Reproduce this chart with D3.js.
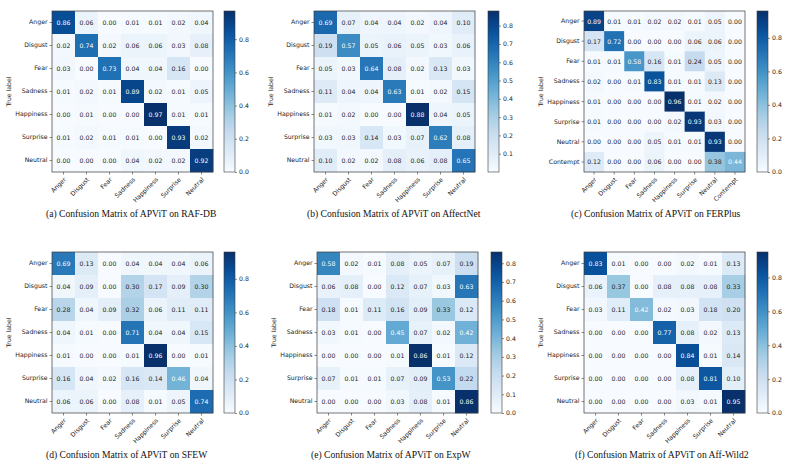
<!DOCTYPE html>
<html>
<head>
<meta charset="utf-8">
<script src="https://cdn.jsdelivr.net/npm/d3@7"></script>
<style>
  html, body { margin: 0; padding: 0; background: #ffffff; }
  svg { display: block; }
</style>
</head>
<body>
<svg id="chart" width="789" height="472"></svg>
<script>
// ---------------- DATA ----------------
const labels7 = ["Anger", "Disgust", "Fear", "Sadness", "Happiness", "Surprise", "Neutral"];
const labels8 = ["Anger", "Disgust", "Fear", "Sadness", "Happiness", "Surprise", "Neutral", "Contempt"];

const rafdb = [
  [0.86, 0.06, 0.00, 0.01, 0.01, 0.02, 0.04],
  [0.02, 0.74, 0.02, 0.06, 0.06, 0.03, 0.08],
  [0.03, 0.00, 0.73, 0.04, 0.04, 0.16, 0.00],
  [0.01, 0.02, 0.01, 0.89, 0.02, 0.01, 0.05],
  [0.00, 0.01, 0.00, 0.00, 0.97, 0.01, 0.01],
  [0.01, 0.02, 0.01, 0.01, 0.00, 0.93, 0.02],
  [0.00, 0.00, 0.00, 0.04, 0.02, 0.02, 0.92]
];
const affectnet = [
  [0.69, 0.07, 0.04, 0.04, 0.02, 0.04, 0.10],
  [0.19, 0.57, 0.05, 0.06, 0.05, 0.03, 0.06],
  [0.05, 0.03, 0.64, 0.08, 0.02, 0.13, 0.03],
  [0.11, 0.04, 0.04, 0.63, 0.01, 0.02, 0.15],
  [0.01, 0.02, 0.00, 0.00, 0.88, 0.04, 0.05],
  [0.03, 0.03, 0.14, 0.03, 0.07, 0.62, 0.08],
  [0.10, 0.02, 0.02, 0.08, 0.06, 0.08, 0.65]
];
const ferplus = [
  [0.89, 0.01, 0.01, 0.02, 0.02, 0.01, 0.05, 0.00],
  [0.17, 0.72, 0.00, 0.00, 0.00, 0.06, 0.06, 0.00],
  [0.01, 0.01, 0.58, 0.16, 0.01, 0.24, 0.05, 0.00],
  [0.02, 0.00, 0.01, 0.83, 0.01, 0.01, 0.13, 0.00],
  [0.01, 0.00, 0.00, 0.00, 0.96, 0.01, 0.02, 0.00],
  [0.01, 0.00, 0.00, 0.00, 0.02, 0.93, 0.03, 0.00],
  [0.00, 0.00, 0.00, 0.05, 0.01, 0.01, 0.93, 0.00],
  [0.12, 0.00, 0.00, 0.06, 0.00, 0.00, 0.38, 0.44]
];
const sfew = [
  [0.69, 0.13, 0.00, 0.04, 0.04, 0.04, 0.06],
  [0.04, 0.09, 0.00, 0.30, 0.17, 0.09, 0.30],
  [0.28, 0.04, 0.09, 0.32, 0.06, 0.11, 0.11],
  [0.04, 0.01, 0.00, 0.71, 0.04, 0.04, 0.15],
  [0.01, 0.00, 0.00, 0.01, 0.96, 0.00, 0.01],
  [0.16, 0.04, 0.02, 0.16, 0.14, 0.46, 0.04],
  [0.06, 0.06, 0.00, 0.08, 0.01, 0.05, 0.74]
];
const expw = [
  [0.58, 0.02, 0.01, 0.08, 0.05, 0.07, 0.19],
  [0.06, 0.08, 0.00, 0.12, 0.07, 0.03, 0.63],
  [0.18, 0.01, 0.11, 0.16, 0.09, 0.33, 0.12],
  [0.03, 0.01, 0.00, 0.45, 0.07, 0.02, 0.42],
  [0.00, 0.00, 0.00, 0.01, 0.86, 0.01, 0.12],
  [0.07, 0.01, 0.01, 0.07, 0.09, 0.53, 0.22],
  [0.00, 0.00, 0.00, 0.03, 0.08, 0.01, 0.86]
];
const affwild2 = [
  [0.83, 0.01, 0.00, 0.00, 0.02, 0.01, 0.13],
  [0.06, 0.37, 0.00, 0.08, 0.08, 0.08, 0.33],
  [0.03, 0.11, 0.42, 0.02, 0.03, 0.18, 0.20],
  [0.00, 0.00, 0.00, 0.77, 0.08, 0.02, 0.13],
  [0.00, 0.00, 0.00, 0.00, 0.84, 0.01, 0.14],
  [0.00, 0.00, 0.00, 0.00, 0.08, 0.81, 0.10],
  [0.00, 0.00, 0.00, 0.00, 0.03, 0.01, 0.95]
];

const ticks02 = [0.0, 0.2, 0.4, 0.6, 0.8];
const ticksAffectNet = [0.1, 0.2, 0.3, 0.4, 0.5, 0.6, 0.7, 0.8];
const ticksExpW = [0.0, 0.1, 0.2, 0.3, 0.4, 0.5, 0.6, 0.7, 0.8];

const captions = [
  "(a) Confusion Matrix of APViT on RAF-DB",
  "(b) Confusion Matrix of APViT on AffectNet",
  "(c) Confusion Matrix of APViT on FERPlus",
  "(d) Confusion Matrix of APViT on SFEW",
  "(e) Confusion Matrix of APViT on ExpW",
  "(f) Confusion Matrix of APViT on Aff-Wild2"
];

// ---------------- STYLE / LAYOUT ----------------
const bluesStops = ["#f7fbff", "#deebf7", "#c6dbef", "#9ecae1", "#6baed6", "#4292c6", "#2171b5", "#08519c", "#08306b"];
const blues = d3.scaleLinear()
  .domain(d3.range(bluesStops.length).map(i => i / (bluesStops.length - 1)))
  .range(bluesStops)
  .interpolate(d3.interpolateRgb);

const S = 161;          // matrix size (px)
const CBW = 11;         // colorbar width
const FONT = "'DejaVu Sans', sans-serif";
const FS = 6.2;
const frameColor = "#3a3a3a";

const panels = [
  { data: rafdb,     labels: labels7, ticks: ticks02,        caption: captions[0], x: 52,  y: 11,  cbx: 224, capX: 46,  capY: 217 },
  { data: affectnet, labels: labels7, ticks: ticksAffectNet, caption: captions[1], x: 314, y: 11,  cbx: 488, capX: 307, capY: 217 },
  { data: ferplus,   labels: labels8, ticks: ticks02,        caption: captions[2], x: 584, y: 11,  cbx: 757, capX: 571, capY: 217 },
  { data: sfew,      labels: labels7, ticks: ticks02,        caption: captions[3], x: 52,  y: 252, cbx: 224, capX: 46,  capY: 458 },
  { data: expw,      labels: labels7, ticks: ticksExpW,      caption: captions[4], x: 317, y: 252, cbx: 491, capX: 311, capY: 458 },
  { data: affwild2,  labels: labels7, ticks: ticks02,        caption: captions[5], x: 584, y: 252, cbx: 757, capX: 575, capY: 458 }
];

const svg = d3.select("#chart");
svg.append("rect").attr("width", 789).attr("height", 472).attr("fill", "#ffffff");

const defs = svg.append("defs");
const grad = defs.append("linearGradient")
  .attr("id", "bluesGrad")
  .attr("x1", "0").attr("y1", "1").attr("x2", "0").attr("y2", "0");
d3.range(0, 1.0001, 0.05).forEach(t => {
  grad.append("stop").attr("offset", t).attr("stop-color", blues(t));
});

function styleAxis(sel) {
  sel.select(".domain").remove();
  sel.selectAll(".tick line").attr("stroke", frameColor).attr("stroke-width", 0.6);
  sel.selectAll(".tick text")
    .attr("fill", "#222")
    .style("font-family", FONT)
    .style("font-size", FS + "px");
}

panels.forEach(p => {
  const g = svg.append("g");
  const labels = p.labels;
  const x = d3.scaleBand().domain(labels).range([p.x, p.x + S]);
  const y = d3.scaleBand().domain(labels).range([p.y, p.y + S]);
  const flat = p.data.flat();
  const vmin = d3.min(flat), vmax = d3.max(flat);
  const norm = d3.scaleLinear().domain([vmin, vmax]).range([0, 1]).clamp(true);

  const cells = [];
  p.data.forEach((row, i) => row.forEach((v, j) => cells.push({ r: labels[i], c: labels[j], v })));

  g.selectAll("rect.cell").data(cells).join("rect")
    .attr("class", "cell")
    .attr("x", d => x(d.c))
    .attr("y", d => y(d.r))
    .attr("width", x.bandwidth() + 0.3)
    .attr("height", y.bandwidth() + 0.3)
    .attr("fill", d => blues(norm(d.v)));

  g.selectAll("text.val").data(cells).join("text")
    .attr("class", "val")
    .attr("x", d => x(d.c) + x.bandwidth() / 2)
    .attr("y", d => y(d.r) + y.bandwidth() / 2)
    .attr("text-anchor", "middle")
    .attr("dominant-baseline", "central")
    .style("font-family", FONT)
    .style("font-size", FS + "px")
    .attr("fill", d => d.v > 0.4 * vmax ? "#ffffff" : "#222222")
    .text(d => d.v.toFixed(2));

  g.append("rect")
    .attr("x", p.x).attr("y", p.y).attr("width", S).attr("height", S)
    .attr("fill", "none").attr("stroke", frameColor).attr("stroke-width", 0.7);

  // left axis
  const ya = g.append("g").attr("transform", `translate(${p.x},0)`)
    .call(d3.axisLeft(y).tickSize(2.5).tickPadding(2));
  styleAxis(ya);

  // bottom axis
  const xa = g.append("g").attr("transform", `translate(0,${p.y + S})`)
    .call(d3.axisBottom(x).tickSize(2.5).tickPadding(2));
  styleAxis(xa);
  xa.selectAll(".tick text")
    .attr("x", 0).attr("y", 0).attr("dy", "0.35em")
    .attr("text-anchor", "end")
    .attr("transform", "translate(1.5,6.5) rotate(-45)");

  // y label
  g.append("text")
    .attr("transform", `translate(${p.x - 44},${p.y + S / 2}) rotate(-90)`)
    .attr("text-anchor", "middle")
    .attr("dominant-baseline", "central")
    .style("font-family", FONT)
    .style("font-size", FS + "px")
    .attr("fill", "#222")
    .text("True label");

  // colorbar
  const cb = d3.scaleLinear().domain([vmin, vmax]).range([p.y + S, p.y]);
  g.append("rect")
    .attr("x", p.cbx).attr("y", p.y).attr("width", CBW).attr("height", S)
    .attr("fill", "url(#bluesGrad)")
    .attr("stroke", frameColor).attr("stroke-width", 0.6);
  const ca = g.append("g").attr("transform", `translate(${p.cbx + CBW},0)`)
    .call(d3.axisRight(cb).tickValues(p.ticks).tickFormat(d3.format(".1f")).tickSize(2).tickPadding(2));
  styleAxis(ca);

  // caption
  svg.append("text")
    .attr("x", p.capX).attr("y", p.capY)
    .style("font-family", "'Liberation Serif', 'Times New Roman', serif")
    .style("font-size", "9.6px")
    .attr("fill", "#111")
    .text(p.caption);
});
</script>
</body>
</html>
